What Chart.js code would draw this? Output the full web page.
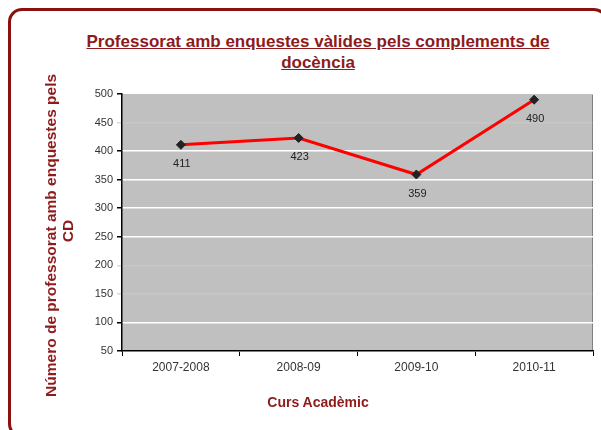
<!DOCTYPE html>
<html>
<head>
<meta charset="utf-8">
<script src="https://cdn.jsdelivr.net/npm/chart.js@4"></script>
<style>
  body { margin: 0; background: #fff; width: 601px; height: 430px; overflow: hidden; position: relative; font-family: Arial, "Liberation Sans", sans-serif; }
  #frame { position: absolute; left: 8px; top: 8px; width: 600px; height: 430px; border: 3px solid #8b1010; border-radius: 14px; box-sizing: border-box; }
  #title { position: absolute; left: 50px; width: 536px; top: 31px; text-align: center; font-weight: bold; font-size: 17px; line-height: 21px; color: #8e1b1b; text-decoration: underline; }
  #xtitle { position: absolute; left: 218px; width: 200px; top: 394px; text-align: center; font-weight: bold; font-size: 14px; color: #8e1b1b; }
  canvas { position: absolute; left: 0; top: 0; }
</style>
</head>
<body>
<div id="frame"></div>
<div id="title">Professorat amb enquestes vàlides pels complements de<br>docència</div>
<canvas id="chart" width="601" height="430"></canvas>
<div id="xtitle">Curs Acadèmic</div>
<script>
const cursos = ['2007-2008', '2008-09', '2009-10', '2010-11'];
const professorat = [411, 423, 359, 490];
const yTitol = ['Número de professorat amb enquestes pels', 'CD'];
// gridlines that have faded away in the scanned original
const liniesEsvaides = [450, 200, 150];

const plotBg = {
  id: 'plotBg',
  beforeDraw(chart) {
    const { ctx, chartArea: a } = chart;
    ctx.save();
    ctx.fillStyle = '#c0c0c0';
    ctx.fillRect(a.left, a.top, a.right - a.left, a.bottom - a.top);
    ctx.strokeStyle = '#808080';
    ctx.lineWidth = 1;
    ctx.beginPath();
    ctx.moveTo(a.left, a.top + 0.5);
    ctx.lineTo(a.right - 0.5, a.top + 0.5);
    ctx.lineTo(a.right - 0.5, a.bottom);
    ctx.stroke();
    ctx.restore();
  }
};

const valueLabels = {
  id: 'valueLabels',
  afterDatasetsDraw(chart) {
    const { ctx } = chart;
    const meta = chart.getDatasetMeta(0);
    ctx.save();
    ctx.font = '11px Arial, "Liberation Sans"';
    ctx.fillStyle = '#222';
    ctx.textAlign = 'center';
    ctx.textBaseline = 'middle';
    meta.data.forEach((pt, i) => {
      ctx.fillText(String(professorat[i]), pt.x + 1, pt.y + 19);
    });
    ctx.restore();
  }
};

// trailing spaces nudge the rotated title down a little, as in the original
const yTitolText = [yTitol[0] + '      ', yTitol[1] + '    '];

const esvaida = (ctx) => ctx.tick && liniesEsvaides.includes(ctx.tick.value);

new Chart(document.getElementById('chart'), {
  type: 'line',
  data: {
    labels: cursos,
    datasets: [{
      data: professorat,
      borderColor: '#ff0000',
      borderWidth: 3,
      pointStyle: 'rectRot',
      pointRadius: 4.5,
      pointBackgroundColor: '#222',
      pointBorderColor: '#222',
      pointBorderWidth: 1,
      tension: 0
    }]
  },
  options: {
    responsive: false,
    animation: false,
    layout: { padding: { left: 43, right: 8, top: 94, bottom: 0 } },
    plugins: { legend: { display: false }, tooltip: { enabled: false } },
    scales: {
      x: {
        offset: true,
        afterFit(s) { s.height = 79; },
        grid: { offset: true, drawOnChartArea: false, drawTicks: true, tickLength: 5, color: '#000' },
        border: { color: '#000', width: 1.5 },
        ticks: { color: '#333', font: { family: 'Arial', size: 12 }, padding: 4, maxRotation: 0 }
      },
      y: {
        min: 50,
        max: 500,
        afterFit(s) { s.width = 79; },
        grid: {
          color: (c) => esvaida(c) ? 'rgba(255,255,255,0.12)' : '#ffffff',
          lineWidth: 1.5,
          tickLength: 5,
          tickColor: (c) => esvaida(c) ? 'rgba(0,0,0,0.15)' : '#000'
        },
        border: { color: '#000', width: 1.5 },
        ticks: { stepSize: 50, color: '#333', font: { family: 'Arial', size: 11 }, padding: 4 },
        title: {
          display: true,
          text: yTitolText,
          color: '#8e1b1b',
          font: { family: 'Arial', size: 15.5, weight: 'bold', lineHeight: 1.1 },
          padding: 0
        }
      }
    }
  },
  plugins: [plotBg, valueLabels]
});
</script>
</body>
</html>
